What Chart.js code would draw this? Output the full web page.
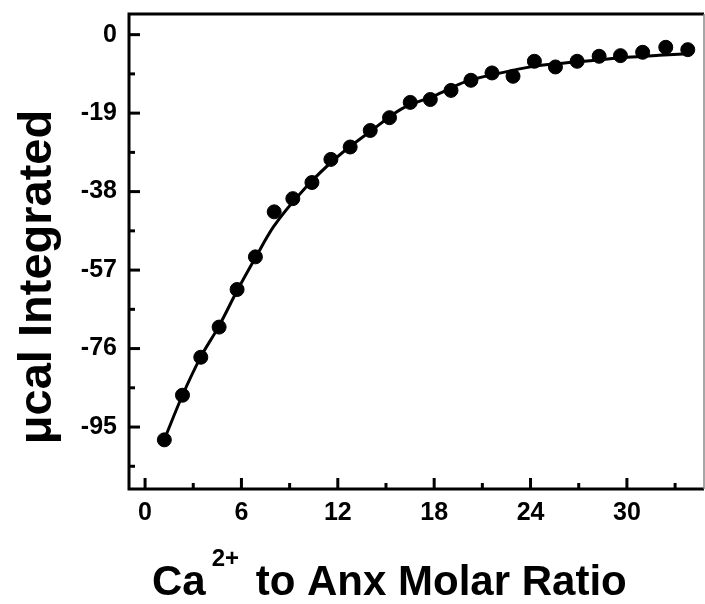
<!DOCTYPE html>
<html>
<head>
<meta charset="utf-8">
<script src="https://cdn.jsdelivr.net/npm/chart.js@4.4.0/dist/chart.umd.min.js"></script>
<style>
  html, body { margin: 0; padding: 0; background: #fff; }
  #wrap { width: 705px; height: 604px; }
</style>
</head>
<body>
<div id="wrap"><canvas id="itc" width="705" height="604"></canvas></div>
<script>
// Measured points (molar ratio vs integrated heat)
const ratioPts = [1.2, 2.33, 3.47, 4.61, 5.73, 6.87, 8.04, 9.2, 10.39, 11.57, 12.77, 14.02,
    15.22, 16.51, 17.76, 19.05, 20.29, 21.6, 22.91, 24.24, 25.55, 26.9, 28.27, 29.6,
    30.98, 32.42, 33.79];
const heatPts = [-98.1, -87.3, -78.1, -70.8, -61.7, -53.8, -42.9, -39.7, -35.8, -30.2, -27.2, -23.2,
    -20.1, -16.4, -15.7, -13.5, -11.05, -9.27, -10.08, -6.45, -7.82, -6.45, -5.24, -5.08,
    -4.27, -3.06, -3.63];

// Fitted curve
const fitX = [1.2, 2.33, 3.47, 4.61, 5.73, 6.87, 8.0, 10, 12, 14, 16, 18, 20, 22, 24, 26, 28, 30, 32, 33.8];
const fitY = [-98, -87.3, -78, -70.5, -62, -54, -46.5, -37, -29.5, -23.5, -17.9, -14.8, -11.3, -9.4, -7.8, -6.9, -6.2, -5.5, -5.0, -4.6];

const xTicks = [0, 6, 12, 18, 24, 30];
const xMinor = [3, 9, 15, 21, 27, 33];
const yTicks = [0, -19, -38, -57, -76, -95];
const yMinor = [-9.5, -28.5, -47.5, -66.5, -85.5, -104.5];

const FONT = '"Liberation Sans", Arial, Helvetica, sans-serif';

// frame, inward ticks and axis titles
const framePlugin = {
    id: 'frame',
    afterDraw(chart) {
        const ctx = chart.ctx;
        const a = chart.chartArea;
        const xs = chart.scales.x, ys = chart.scales.y;
        ctx.save();
        ctx.strokeStyle = '#000';
        ctx.lineCap = 'butt';

        // ticks
        ctx.lineWidth = 3;
        const tickX = (v, len) => {
            const px = xs.getPixelForValue(v);
            ctx.beginPath(); ctx.moveTo(px, a.bottom); ctx.lineTo(px, a.bottom - len); ctx.stroke();
        };
        const tickY = (v, len) => {
            const py = ys.getPixelForValue(v);
            ctx.beginPath(); ctx.moveTo(a.left, py); ctx.lineTo(a.left + len, py); ctx.stroke();
        };
        xTicks.forEach(v => tickX(v, 11));
        xMinor.forEach(v => tickX(v, 6));
        yTicks.forEach(v => tickY(v, 11));
        yMinor.forEach(v => tickY(v, 6));

        // frame
        ctx.beginPath();
        ctx.moveTo(a.right, a.top); ctx.lineTo(a.left, a.top);
        ctx.lineTo(a.left, a.bottom); ctx.lineTo(a.right, a.bottom);
        ctx.stroke();
        ctx.lineWidth = 1.5;
        ctx.strokeStyle = '#888';
        ctx.beginPath(); ctx.moveTo(a.right, a.top); ctx.lineTo(a.right, a.bottom); ctx.stroke();

        // y title
        ctx.fillStyle = '#000';
        ctx.save();
        ctx.translate(51, 277);
        ctx.rotate(-Math.PI / 2);
        ctx.font = 'bold 47px ' + FONT;
        ctx.textAlign = 'center';
        ctx.textBaseline = 'alphabetic';
        ctx.fillText('\u03bccal Integrated', 0, 0);
        ctx.restore();

        // x title with superscript
        ctx.textAlign = 'left';
        ctx.textBaseline = 'alphabetic';
        let x = 152;
        ctx.font = 'bold 42px ' + FONT;
        ctx.fillText('Ca', x, 595);
        x += ctx.measureText('Ca').width + 6;
        ctx.font = 'bold 24px ' + FONT;
        ctx.fillText('2+', x, 566);
        x += ctx.measureText('2+').width + 5;
        ctx.font = 'bold 42px ' + FONT;
        ctx.fillText(' to Anx Molar Ratio', x, 595);
        ctx.restore();
    }
};

new Chart(document.getElementById('itc'), {
    type: 'scatter',
    data: {
        datasets: [
            {
                label: 'fit',
                data: fitX.map((v, i) => ({ x: v, y: fitY[i] })),
                showLine: true,
                borderColor: '#000',
                borderWidth: 3,
                pointRadius: 0,
                cubicInterpolationMode: 'monotone',
                fill: false
            },
            {
                label: 'data',
                data: ratioPts.map((v, i) => ({ x: v, y: heatPts[i] })),
                backgroundColor: '#000',
                borderColor: '#000',
                pointRadius: 7,
                pointHoverRadius: 7
            }
        ]
    },
    plugins: [framePlugin],
    options: {
        responsive: false,
        animation: false,
        events: [],
        layout: { autoPadding: false, padding: { left: 0, right: 1, top: 14, bottom: 0 } },
        plugins: { legend: { display: false }, tooltip: { enabled: false } },
        scales: {
            x: {
                type: 'linear',
                min: -1,
                max: 34.8,
                grid: { display: false, drawTicks: false },
                border: { display: false },
                afterBuildTicks: s => { s.ticks = xTicks.map(v => ({ value: v })); },
                afterFit: s => { s.height = 115; s.paddingLeft = 0; s.paddingRight = 0; },
                ticks: {
                    color: '#000',
                    padding: 9,
                    maxRotation: 0,
                    autoSkip: false,
                    font: { family: FONT, size: 25, weight: 'bold' }
                }
            },
            y: {
                type: 'linear',
                min: -110,
                max: 5,
                grid: { display: false, drawTicks: false },
                border: { display: false },
                afterBuildTicks: s => { s.ticks = yTicks.map(v => ({ value: v })); },
                afterFit: s => { s.width = 129; s.paddingTop = 0; s.paddingBottom = 0; },
                ticks: {
                    color: '#000',
                    padding: 12,
                    autoSkip: false,
                    font: { family: FONT, size: 25, weight: 'bold' }
                }
            }
        }
    }
});
</script>
</body>
</html>
